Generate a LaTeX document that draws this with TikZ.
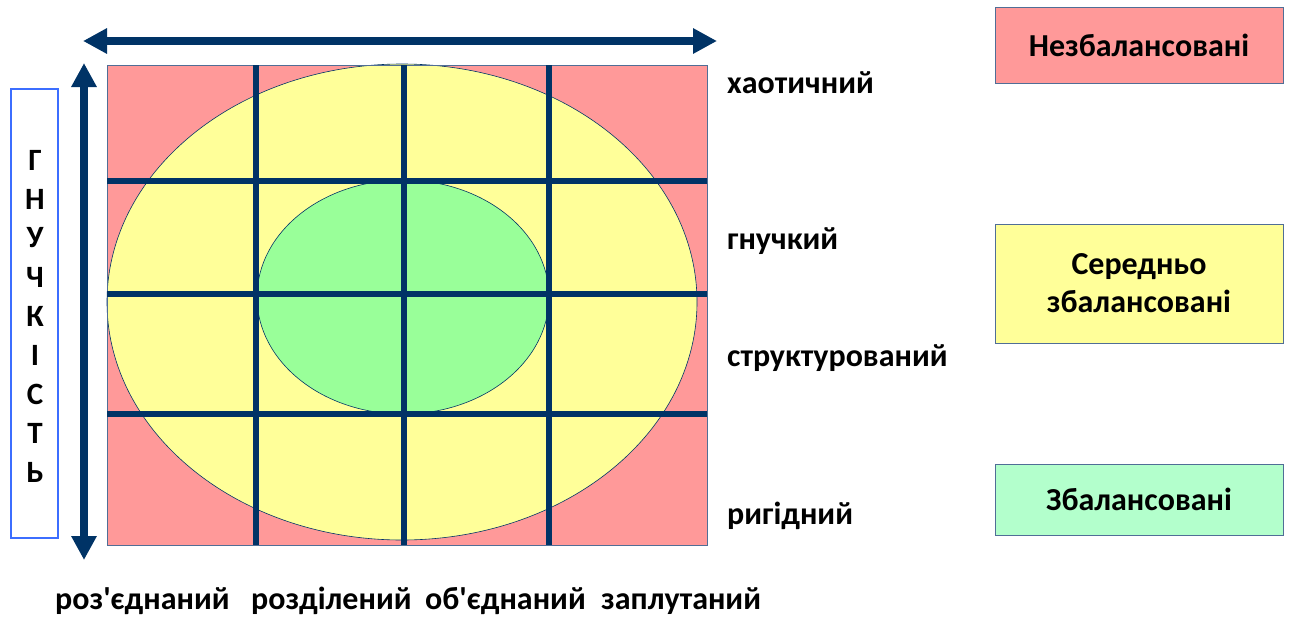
\documentclass[tikz,border=0pt]{standalone}
\usepackage{fontspec}
\setmainfont{Carlito}
\usetikzlibrary{arrows.meta}
\definecolor{navy}{RGB}{0,51,102}
\definecolor{pinkc}{RGB}{255,153,153}
\definecolor{yellowc}{RGB}{255,255,153}
\definecolor{greenc}{RGB}{153,255,153}
\definecolor{mintc}{RGB}{179,255,204}
\definecolor{edgec}{RGB}{80,110,150}
\definecolor{bluebox}{RGB}{60,110,255}
\tikzset{
  gridline/.style={navy, line width=6pt},
  axis/.style={navy, line width=8pt, {Triangle[length=24pt,width=24pt]}-{Triangle[length=24pt,width=24pt]}},
  lbl/.style={font=\fontsize{32}{36}\selectfont\bfseries, inner sep=0pt, anchor=base west},
  legend/.style={draw=edgec, line width=1pt, minimum width=288pt, inner sep=0pt, align=center, font=\fontsize{32}{38}\selectfont\bfseries},
  letter/.style={font=\fontsize{31}{34}\selectfont\bfseries, inner sep=0pt},
}
\begin{document}
\begin{tikzpicture}[x=1pt,y=-1pt]
\useasboundingbox (0,0) rectangle (1289,618);
% square
\fill[pinkc] (107,65) rectangle (707,545);
\draw[navy, line width=0.6pt, fill=yellowc] (402,302) ellipse [x radius=295, y radius=238];
\draw[navy, line width=0.6pt, fill=greenc] (403,297) ellipse [x radius=146, y radius=117];
\draw[edgec, line width=1pt] (107,65) rectangle (707,545);
% grid
\foreach \y in {181,294,414} \draw[gridline] (107,\y) -- (707,\y);
\foreach \x in {256,404,549} \draw[gridline] (\x,65) -- (\x,545);
% axes
\coordinate (hl) at (83,41); \coordinate (hr) at (717,41);
\coordinate (vt) at (84,63); \coordinate (vb) at (84,560);
\draw[axis] (hl) -- (hr);
\draw[axis] (vt) -- (vb);
% left box
\node[draw=bluebox, line width=2pt, minimum width=47pt, minimum height=449pt, inner sep=0pt] (flex) at (34.5,313.5) {};
\foreach \ch [count=\i from 0] in {Г,Н,У,Ч,К,І,С,Т,Ь}
  \node[letter] (l\i) at (35,160+39*\i) {\ch};
% right labels
\node[lbl] (chaos) at (727,93) {хаотичний};
\node[lbl] (flexl) at (727,249) {гнучкий};
\node[lbl] (struct) at (727,366) {структурований};
\node[lbl] (rigid) at (727,524) {ригідний};
% bottom labels
\node[lbl] (b1) at (55,609) {роз\textquotesingle єднаний};
\node[lbl] (b2) at (251,609) {розділений};
\node[lbl] (b3) at (425,609) {об\textquotesingle єднаний};
\node[lbl] (b4) at (601,609) {заплутаний};
% legend
\node[legend, fill=pinkc, minimum height=75pt] (unb) at (1139,45.5) {Незбалансовані};
\node[legend, fill=yellowc, minimum height=119pt] (mid) at (1139,283.5) {Середньо\\збалансовані};
\node[legend, fill=mintc, minimum height=71pt] (bal) at (1139,499.5) {Збалансовані};
\end{tikzpicture}
\end{document}
